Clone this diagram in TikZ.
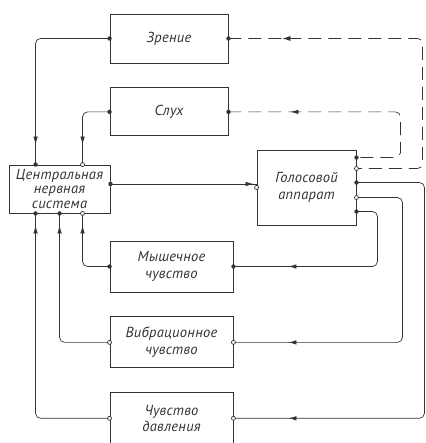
\documentclass[tikz,border=0pt]{standalone}
\usepackage{fontspec}
\setmainfont{PT Sans}[LetterSpace=2]
\usepackage{tikz}
\usetikzlibrary{arrows.meta, positioning, calc, decorations.markings}

\begin{document}
\begin{tikzpicture}[x=1pt, y=1pt, node distance=24pt,
    every node/.style={font=\itshape\fontsize{14.5}{14.5}\selectfont, text=black!80},
    box/.style={draw, rectangle, line width=0.9pt, draw=black!80, align=center, inner sep=1pt},
    link/.style={line width=0.7pt, draw=black!80, rounded corners=5pt},
    back/.style={link, dash pattern=on 13pt off 7pt},
    tip/.style={line width=0.7pt, draw=black!80, fill=black!80, -{Latex[length=8pt,width=5pt]}},
    midarrow/.style={postaction={solid, decorate}, decoration={markings,
        mark=at position #1 with {\arrow{Latex[length=8pt,width=4.5pt]}}}},
    revarrow/.style={postaction={solid, decorate}, decoration={markings,
        mark=at position #1 with {\arrowreversed{Latex[length=8pt,width=4.5pt]}}}},
    dot/.style={fill=black!80},
    odot/.style={draw=black!80, fill=white, line width=0.7pt}]
    \useasboundingbox (0,0) rectangle (425,443);

    % boxes
    \node[box, minimum width=118pt, minimum height=49pt] (zrenie) at (169,404.5) {Зрение};
    \node[box, minimum width=118pt, minimum height=48pt, below=of zrenie] (sluh) {Слух};
    \node[box, minimum width=101pt, minimum height=48pt] (cns) at (59.5,254) {Центральная\\нервная\\система};
    \node[box, minimum width=99pt, minimum height=75pt] (golos) at (306.5,255.5) {Голосовой\\[3pt]аппарат};
    \node[box, minimum width=123pt, minimum height=51pt] (mysh) at (171.5,176.5) {Мышечное\\[2pt]чувство};
    \node[box, minimum width=123pt, minimum height=51pt, below=of mysh] (vibr) {Вибрационное\\[2pt]чувство};
    \node[box, minimum width=123pt, minimum height=51pt, below=of vibr] (davl) {Чувство\\[2pt]давления};

    % ports on the boxes
    \coordinate (c0) at ([yshift=5pt]cns.east);
    \coordinate (c1) at ([xshift=27pt]cns.north west);
    \coordinate (c2) at ([xshift=74pt]cns.north west);
    \coordinate (b1) at ([xshift=27pt]cns.south west);
    \coordinate (b2) at ([xshift=51pt]cns.south west);
    \coordinate (b3) at ([xshift=74pt]cns.south west);
    \coordinate (g1) at ([yshift=-8pt]golos.north east);
    \coordinate (g2) at ([yshift=-19pt]golos.north east);
    \coordinate (g3) at ([yshift=-33pt]golos.north east);
    \coordinate (g4) at ([yshift=-48pt]golos.north east);
    \coordinate (g5) at ([yshift=-62pt]golos.north east);

    % senses into the CNS
    \draw[link, midarrow=-20pt] (zrenie.west) -| (c1);
    \draw[link, midarrow=-20pt] (sluh.west) -| (c2);
    \draw[link, midarrow=-12pt] (mysh.west) -| (b3);
    \draw[link, midarrow=-12pt] (vibr.west) -| (b2);
    \draw[link, midarrow=-12pt] (davl.west) -| (b1);
    \draw[link, midarrow=-3pt] (c0) -- (c0 -| golos.west);

    % feedback from the voice apparatus
    \draw[back] (zrenie.east) -- ([xshift=194pt]zrenie.east) |- (g2);
    \draw[tip] ([xshift=63pt]zrenie.east) -- ([xshift=54pt]zrenie.east);
    \draw[back, revarrow=62pt] (sluh.east) -- ([xshift=172pt]sluh.east) |- (g1);
    \draw[link, revarrow=55pt] (davl.east) -- ([xshift=191pt]davl.east) |- (g3);
    \draw[link, revarrow=55pt] (vibr.east) -- ([xshift=169pt]vibr.east) |- (g4);
    \draw[link, revarrow=55pt] (mysh.east) -- ([xshift=144pt]mysh.east) |- (g5);

    % dots
    \foreach \p in {zrenie.west, sluh.west, zrenie.east, sluh.east, c0, c1, b1, b2, mysh.west, mysh.east, g1, g3, g5}
        \fill[dot] (\p) circle (2.2pt);
    \foreach \p in {c2, b3, vibr.west, davl.west, vibr.east, davl.east, golos.west, g2, g4}
        \filldraw[odot] (\p) circle (2pt);
\end{tikzpicture}
\end{document}
